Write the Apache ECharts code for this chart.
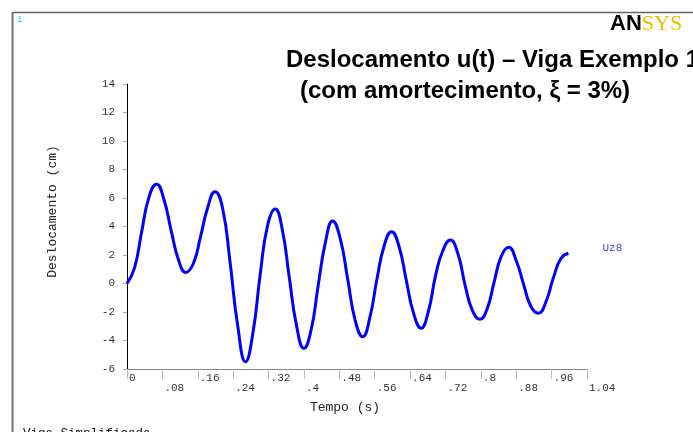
<!DOCTYPE html>
<html>
<head>
<meta charset="utf-8">
<script src="https://cdn.jsdelivr.net/npm/echarts@6/dist/echarts.min.js"></script>
<style>
html, body { margin: 0; padding: 0; background: #fff; }
#chart { width: 693px; height: 432px; }
</style>
</head>
<body>
<div id="chart"></div>
<script>
// tempo (s) e deslocamento (cm)
var tempo = [0, 0.017, 0.033, 0.050, 0.067, 0.083, 0.100, 0.117,
    0.133, 0.150, 0.166, 0.182, 0.199, 0.216, 0.233, 0.250,
    0.268, 0.285, 0.301, 0.318, 0.335, 0.351, 0.367, 0.383,
    0.400, 0.416, 0.432, 0.448, 0.465, 0.482, 0.499, 0.516,
    0.533, 0.549, 0.565, 0.581, 0.598, 0.615, 0.632, 0.648,
    0.665, 0.681, 0.698, 0.714, 0.731, 0.748, 0.765, 0.781,
    0.798, 0.814, 0.830, 0.846, 0.863, 0.880, 0.897, 0.913,
    0.930, 0.947, 0.964, 0.981, 0.998];
var uz8 = [0, 1.1, 3.6, 6.1, 6.97, 5.95, 3.7, 1.6,
    0.78, 1.4, 3.25, 5.28, 6.44, 5.3, 1.5, -2.9,
    -5.49, -3.4, 0.6, 4.1, 5.23, 3.8, 0.4, -2.9,
    -4.55, -3.3, -0.2, 2.8, 4.39, 3.17, 0.3, -2.6,
    -3.73, -2.4, 0.3, 2.6, 3.64, 2.6, 0.13, -2.1,
    -3.14, -2.0, 0.6, 2.3, 3.05, 2.1, -0.2, -1.9,
    -2.51, -1.8, 0.1, 1.9, 2.54, 1.6, -0.1, -1.6,
    -2.09, -1.3, 0.4, 1.75, 2.12];

var titulo1 = 'Deslocamento u(t) – Viga Exemplo 1';
var titulo2 = '(com amortecimento, ξ = 3%)';

var pontos = [];
for (var i = 0; i < tempo.length; i++) {
    pontos.push([tempo[i], uz8[i]]);
}

var mono = '"Liberation Mono", "DejaVu Sans Mono", monospace';

var myChart = echarts.init(document.getElementById('chart'));
var option = {
    backgroundColor: '#fff',
    animation: false,
    grid: { left: 127, top: 84, width: 460, height: 285 },
    xAxis: {
        type: 'value',
        min: 0,
        max: 1.04,
        interval: 0.08,
        name: 'Tempo (s)',
        nameLocation: 'middle',
        nameGap: 32,
        nameTextStyle: { fontFamily: mono, fontSize: 13, color: '#222', padding: [0, 24, 0, 0] },
        splitLine: { show: false },
        axisLine: { onZero: false, lineStyle: { color: '#888', width: 1 } },
        axisTick: { length: 10, lineStyle: { color: '#bbb' } },
        axisLabel: {
            align: 'left',
            margin: 4,
            formatter: function (v, idx) {
                var s = (+v.toFixed(2)) + '';
                s = s.replace(/^0\./, '.');
                return idx % 2 ? '{b|' + s + '}' : '{a|' + s + '}';
            },
            rich: {
                a: { fontFamily: mono, fontSize: 11, color: '#333', padding: [0, 0, 10, 2] },
                b: { fontFamily: mono, fontSize: 11, color: '#333', padding: [10, 0, 0, 2] }
            }
        }
    },
    yAxis: {
        type: 'value',
        min: -6,
        max: 14,
        interval: 2,
        name: 'Deslocamento (cm)',
        nameLocation: 'middle',
        nameRotate: 90,
        nameGap: 68,
        nameTextStyle: { fontFamily: mono, fontSize: 13, color: '#222', padding: [0, 0, 0, 30] },
        splitLine: { show: false },
        axisLine: { lineStyle: { color: '#000', width: 1 } },
        axisTick: { length: 4, lineStyle: { color: '#aaa' } },
        axisLabel: { fontFamily: mono, fontSize: 11, color: '#333', margin: 12 }
    },
    series: [{
        name: 'Uz8',
        type: 'line',
        data: pontos,
        showSymbol: false,
        smooth: 0.5,
        lineStyle: { color: '#0000ff', width: 3 },
        itemStyle: { color: '#0000ff' },
        endLabel: {
            show: true,
            formatter: 'Uz8',
            offset: [26, -5],
            fontFamily: mono,
            fontSize: 11,
            color: '#4444ff'
        }
    }],
    graphic: [
        { type: 'line', shape: { x1: 12, y1: 12.5, x2: 693, y2: 12.5 }, style: { stroke: '#666', lineWidth: 1.5 } },
        { type: 'line', shape: { x1: 12.5, y1: 12, x2: 12.5, y2: 432 }, style: { stroke: '#777', lineWidth: 2 } },
        { type: 'text', x: 17, y: 20, style: { text: '1', font: '9px ' + mono, fill: '#00e0e0', verticalAlign: 'middle' } },
        { type: 'text', x: 610, y: 24, style: {
            text: '{a|AN}{b|SYS}',
            verticalAlign: 'middle',
            rich: {
                a: { font: 'bold 22px "Liberation Sans", Arial, sans-serif', fill: '#000' },
                b: { font: '22px "Liberation Serif", "Times New Roman", serif', fill: '#e8c000' }
            }
        } },
        { type: 'text', x: 286, y: 60, style: { text: titulo1, font: 'bold 24px "Liberation Sans", Arial, sans-serif', fill: '#000', verticalAlign: 'middle' } },
        { type: 'text', x: 300, y: 91, style: { text: titulo2, font: 'bold 24px "Liberation Sans", Arial, sans-serif', fill: '#000', verticalAlign: 'middle' } },
        { type: 'text', x: 23, y: 427, style: { text: 'Viga Simplificada', font: '12.5px ' + mono, fill: '#111', verticalAlign: 'top' } }
    ]
};

if (option && typeof option === "object") {
    myChart.setOption(option, true);
}
</script>
</body>
</html>
